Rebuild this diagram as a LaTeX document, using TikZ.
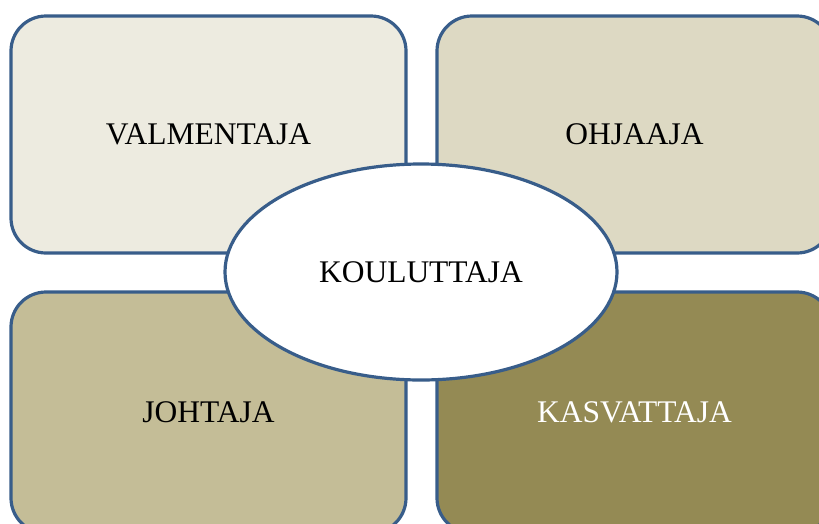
\documentclass[tikz,border=0pt]{standalone}
\usepackage{fontspec}
\setmainfont{Liberation Serif}
\usetikzlibrary{shapes.geometric}
\definecolor{edgeblue}{HTML}{385D8A}
\definecolor{fillA}{HTML}{EDEBE0}
\definecolor{fillB}{HTML}{DDD9C3}
\definecolor{fillC}{HTML}{C4BD97}
\definecolor{fillD}{HTML}{948A54}
\tikzset{
  rolebox/.style={draw=edgeblue, line width=3.2pt, rounded corners=35pt,
    minimum width=395pt, minimum height=237pt, inner sep=0pt,
    font=\fontsize{31.5}{36}\selectfont, text=black},
  hub/.style={ellipse, draw=edgeblue, line width=3.2pt, fill=white,
    minimum width=392pt, minimum height=216pt, inner sep=0pt,
    font=\fontsize{31.5}{36}\selectfont, text=black}
}
\begin{document}
\begin{tikzpicture}[x=1pt,y=-1pt]
  \useasboundingbox (0,0) rectangle (819,523);
  \clip (0,0) rectangle (819,523);
  \fill[white] (0,0) rectangle (819,523);
  \node[rolebox, fill=fillA] (valm) at (208.5,134.5) {VALMENTAJA};
  \node[rolebox, fill=fillB] (ohj) at (634.5,134.5) {OHJAAJA};
  \node[rolebox, fill=fillC, minimum height=241pt] (joht) at (208.5,412.5) {JOHTAJA};
  \node[rolebox, fill=fillD, minimum height=241pt, text=white] (kasv) at (634.5,412.5) {KASVATTAJA};
  \node[hub] (koul) at (421,272) {KOULUTTAJA};
\end{tikzpicture}
\end{document}
